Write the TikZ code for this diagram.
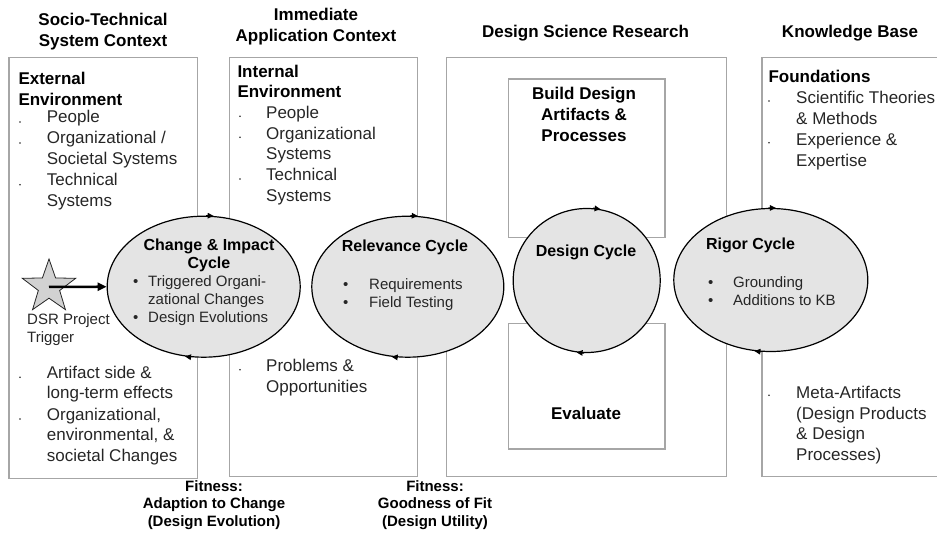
\documentclass[tikz,border=0pt]{standalone}
\usepackage{fontspec}
\setmainfont{Liberation Sans}
\usepackage{tikz}
\usetikzlibrary{shapes.geometric,arrows.meta}

\definecolor{boxgray}{HTML}{A6A6A6}
\definecolor{cyclefill}{HTML}{E4E4E4}
\definecolor{txt}{HTML}{262626}

\begin{document}
\begin{tikzpicture}[x=1pt,y=-1pt,
	panel/.style={draw=boxgray,line width=1.2pt},
	cyc/.style={ellipse,draw=black,line width=1.2pt,fill=cyclefill,inner sep=0},
	cyctip/.style={-{Triangle[length=6pt,width=5.5pt]},line width=1.2pt},
	head/.style={font=\bfseries\fontsize{17}{20.7}\selectfont,align=center,anchor=base,inner sep=0},
	title/.style={font=\bfseries\fontsize{17}{20.7}\selectfont,align=left,anchor=base west,inner sep=0},
	item/.style={font=\fontsize{17}{20.7}\selectfont,text=txt,align=left,anchor=base west,inner sep=0},
	ctitle/.style={font=\bfseries\fontsize{16}{18}\selectfont,align=center,anchor=base,inner sep=0},
	citem/.style={font=\fontsize{15}{18}\selectfont,text=txt,align=left,anchor=base west,inner sep=0},
	fitness/.style={font=\bfseries\fontsize{15}{17.8}\selectfont,align=center,anchor=base,inner sep=0}]
	\useasboundingbox (0,0) rectangle (937,534);
	\clip (0,0) rectangle (937,534);
	% multi-line nodes sit on the baseline of their last line
	
	%headers
	\node[head] (hsoc) at (103,46.7) {Socio-Technical\\System Context};
	\node[head] (himm) at (316,41.7) {Immediate\\Application Context};
	\node[head] (hdsr) at (585.5,37.3) {Design Science Research};
	\node[head] (hkb) at (850,37.3) {Knowledge Base};
	
	%boxes
	\draw[panel] (9,57.3) rectangle (197.3,478.3);
	\draw[panel] (229.3,57.3) rectangle (417.3,476.7);
	\draw[panel] (446.7,57.3) rectangle (726.7,476.7);
	\draw[panel] (762,57.3) rectangle (950,476.7);
	\draw[panel] (508.7,79) rectangle (665,237.7);
	\draw[panel] (508.7,323.3) rectangle (665,449);
	
	%external environment
	\node[title] (ext) at (18.3,105.7) {External\\Environment};
	\node[item] (ext1) at (46.7,123) {People};
	\node[item] (ext2) at (46.7,164.7) {Organizational /\\Societal Systems};
	\node[item] (ext3) at (46.7,206.4) {Technical\\Systems};
	\node[item] (ext4) at (46.7,399) {Artifact side \&\\long-term effects};
	\node[item] (ext5) at (46.7,461.4) {Organizational,\\environmental, \&\\societal Changes};
	\foreach \y in {123,144,185.7,378.3,420}
	{\fill[txt] (20,\y-1) circle (0.9);}
	
	%internal environment
	\node[title] (int) at (237.3,98) {Internal\\Environment};
	\node[item] (int1) at (266,118.3) {People};
	\node[item] (int2) at (266,160) {Organizational\\Systems};
	\node[item] (int3) at (266,201.7) {Technical\\Systems};
	\node[item] (int4) at (266,392.4) {Problems \&\\Opportunities};
	\foreach \y in {118.3,139.3,181,371.7}
	{\fill[txt] (240,\y-2) circle (0.9);}
	
	%design science research
	\node[head] (bld) at (584,141.4) {Build Design\\Artifacts \&\\Processes};
	\node[head] (eva) at (586,420) {Evaluate};
	
	%knowledge base
	\node[title] (fnd) at (768.3,82.7) {Foundations};
	\node[item] (fnd1) at (796,124.7) {Scientific Theories\\\& Methods};
	\node[item] (fnd2) at (796,166.4) {Experience \&\\Expertise};
	\node[item] (fnd3) at (796,460.4) {Meta-Artifacts\\(Design Products\\\& Design\\Processes)};
	\foreach \y in {104,145.7,398.3}
	{\fill[txt] (769,\y-3) circle (0.9);}
	
	%cycles
	\node[cyc,minimum width=193,minimum height=141] (chg) at (203.7,286.7) {};
	\node[cyc,minimum width=192,minimum height=141] (rel) at (407.8,286.7) {};
	\node[cyc,minimum width=147,minimum height=144] (des) at (586.7,280.5) {};
	\node[cyc,minimum width=194,minimum height=143] (rig) at (770.8,280) {};
	\foreach \c/\a/\b/\p/\q in {chg/88.4/82.7/260.4/255,rel/88.4/82.7/262.7/257.3,des/85.2/79.8/268.4/262.9,rig/92.4/86.8/262.8/257.4}
	{\draw[cyctip] (\c.\a) -- (\c.\b);
	\draw[cyctip] (\c.\p) -- (\c.\q);}
	
	\node[ctitle] (chgt) at (209,268.5) {Change \& Impact\\Cycle};
	\node[citem] (chgl) at (148,322.7) {Triggered Organi-\\zational Changes\\Design Evolutions};
	\node[ctitle] (relt) at (405,251.7) {Relevance Cycle};
	\node[citem] (rell) at (369,307.3) {Requirements\\Field Testing};
	\node[ctitle] (dest) at (586,256.3) {Design Cycle};
	\node[ctitle] (rigt) at (750.5,249.3) {Rigor Cycle};
	\node[citem] (rigl) at (733,305.7) {Grounding\\Additions to KB};
	\foreach \x/\y in {133/286.7,133/322.7,343/289.3,343/307.3,708/287.7,708/305.7}
	{\node[citem] at (\x,\y) {\textbullet};}
	
	%trigger
	\node[star,star points=5,star point ratio=2.5,minimum size=56,draw=txt,fill=gray!35,line width=0.8pt,inner sep=0] (trig) at (49,287) {};
	\draw[-{Triangle[length=9pt,width=8pt]},line width=2.5pt] (trig.center) -- (chg.west);
	\node[citem] (trigt) at (27,343) {DSR Project\\Trigger};
	
	%fitness
	\node[fitness] (fit1) at (214,526.6) {Fitness:\\Adaption to Change\\(Design Evolution)};
	\node[fitness] (fit2) at (435,526.6) {Fitness:\\Goodness of Fit\\(Design Utility)};
\end{tikzpicture}
\end{document}
